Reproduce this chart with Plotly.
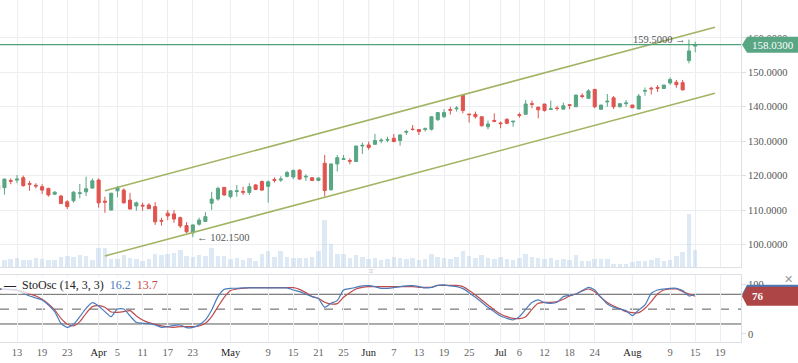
import plotly.graph_objects as go

# ---------------- data (bar index 0 = 13 Mar) ----------------
bar_idx = list(range(-3, 109))
opens = [117.3, 116.5, 118.6, 118.7, 119.4, 117.7, 117.2, 116.8, 116.3, 114.6, 114.1, 112.4, 112.7, 114.8, 115.3, 116.4,
         118.7, 112.6, 110.0, 115.6, 115.8, 112.9, 111.2, 111.4, 111.5, 111.0, 107.0, 109.1, 108.9, 107.8, 105.5, 103.4,
         105.9, 106.7, 112.0, 113.2, 116.6, 113.9, 115.4, 115.4, 115.1, 117.3, 118.3, 116.9, 118.9, 118.7, 119.8, 119.6,
         121.6, 119.6, 119.4, 118.6, 123.6, 115.9, 123.4, 124.7, 124.4, 124.1, 128.6, 128.9, 129.1, 130.1, 130.3, 130.85,
         130.2, 132.6, 133.5, 133.4, 133.4, 133.45, 136.2, 137.1, 139.2, 139.4, 143.4, 137.9, 137.8, 137.1, 134.2, 136.0,
         135.3, 136.35, 135.6, 137.7, 137.8, 140.9, 139.9, 140.8, 139.2, 139.6, 139.3, 140.6, 140.0, 143.2, 142.45, 145.05,
         139.25, 141.4, 142.6, 140.0, 140.9, 140.5, 139.35, 144.5, 145.4, 145.6, 145.3, 146.9, 147.1, 147.0, 153.4, 157.6]
highs = [117.6, 119.1, 119.2, 120.2, 120.0, 118.5, 117.8, 117.5, 116.5, 115.5, 114.3, 112.9, 115.5, 117.6, 119.7, 119.2,
         119.2, 113.9, 115.0, 117.0, 116.3, 115.0, 112.5, 112.2, 112.0, 112.3, 107.8, 110.0, 110.0, 108.1, 106.5, 105.8,
         107.8, 109.4, 115.3, 116.8, 116.6, 115.6, 117.3, 116.8, 117.8, 117.6, 118.6, 118.6, 119.5, 119.8, 121.4, 121.8,
         121.9, 120.4, 119.5, 119.5, 126.0, 123.5, 126.0, 126.0, 125.0, 128.7, 129.6, 129.9, 132.1, 130.85, 131.3, 132.1,
         132.1, 133.3, 134.7, 133.4, 134.0, 137.3, 138.4, 139.3, 140.0, 140.2, 143.5, 137.9, 138.6, 137.2, 136.0, 138.1,
         135.7, 136.65, 135.8, 138.3, 142.0, 141.8, 139.9, 140.8, 141.8, 140.2, 141.2, 140.8, 143.4, 143.9, 145.1, 145.1,
         140.5, 143.7, 143.1, 140.9, 141.96, 140.5, 143.7, 145.6, 145.8, 146.3, 146.3, 148.5, 147.8, 147.8, 159.5, 158.9]
lows = [115.8, 114.5, 117.5, 117.8, 116.8, 115.6, 116.3, 114.7, 113.9, 114.4, 111.8, 110.3, 112.2, 113.4, 114.1, 116.2,
        110.7, 109.2, 109.9, 113.7, 111.9, 110.2, 109.8, 109.8, 110.3, 105.7, 105.5, 107.1, 106.3, 104.8, 103.3, 102.15,
        105.5, 106.6, 110.0, 112.7, 114.1, 113.4, 113.9, 114.4, 114.4, 115.8, 115.6, 112.2, 118.0, 118.2, 119.5, 119.0,
        118.8, 118.5, 118.4, 118.4, 113.9, 115.7, 121.2, 124.6, 123.3, 124.0, 126.3, 127.5, 129.1, 129.4, 129.7, 129.7,
        128.7, 131.8, 133.1, 131.8, 132.8, 133.1, 136.0, 136.8, 137.7, 138.6, 138.1, 135.4, 136.6, 134.2, 133.45, 135.5,
        133.75, 134.9, 134.2, 136.8, 137.8, 139.55, 136.65, 138.6, 139.1, 138.9, 139.3, 139.3, 140.0, 142.45, 142.45, 139.55,
        139.25, 140.0, 139.35, 139.8, 140.0, 139.7, 139.35, 143.2, 143.6, 144.3, 145.2, 146.4, 145.5, 144.7, 152.6, 155.8]
closes = [116.0, 119.0, 118.4, 119.0, 117.1, 117.5, 117.0, 115.8, 114.4, 115.2, 111.9, 111.0, 115.2, 115.0, 116.2, 118.5,
          112.1, 112.3, 114.9, 116.6, 112.1, 110.3, 112.1, 111.2, 110.4, 106.6, 106.8, 108.3, 107.4, 105.4, 103.7, 105.7,
          107.1, 108.1, 113.2, 116.3, 114.4, 115.6, 115.6, 115.2, 116.8, 116.0, 115.8, 118.2, 118.6, 119.0, 120.9, 121.5,
          119.0, 119.8, 118.6, 119.3, 115.7, 123.4, 125.2, 124.9, 124.2, 128.6, 128.8, 128.2, 130.2, 130.3, 130.5, 129.9,
          131.8, 132.8, 133.4, 132.8, 133.6, 137.1, 138.3, 138.3, 139.0, 139.6, 138.9, 137.7, 137.1, 134.5, 135.0, 135.8,
          135.1, 135.2, 135.8, 137.5, 140.8, 140.7, 139.1, 138.9, 139.4, 139.5, 140.3, 140.4, 143.4, 143.0, 144.6, 140.0,
          140.5, 141.6, 140.0, 140.9, 141.1, 139.7, 143.1, 144.7, 145.2, 145.4, 146.3, 147.9, 146.4, 144.9, 156.2, 158.03]
volume = [7.0, 7.3, 8.3, 9.3, 7.3, 7.3, 9.3, 8.0, 6.7, 7.3, 10.3, 11.3, 10.3, 12.3, 11.3, 7.3,
          18.7, 18.7, 8.3, 8.3, 12.3, 9.3, 8.0, 6.3, 7.8, 13.0, 12.0, 13.3, 14.0, 17.5, 11.0, 10.5,
          12.0, 11.0, 19.2, 10.7, 10.7, 7.8, 9.5, 7.5, 9.0, 6.3, 13.0, 16.3, 10.0, 16.3, 10.0, 9.3,
          9.3, 9.3, 10.0, 16.3, 47.3, 23.3, 13.3, 13.3, 9.0, 12.0, 10.0, 8.0, 9.0, 7.0, 8.0, 10.0,
          9.0, 8.0, 9.0, 7.0, 8.0, 13.0, 10.0, 9.0, 8.0, 10.0, 16.0, 11.0, 9.0, 12.0, 9.0, 8.0,
          10.0, 8.0, 7.0, 9.0, 13.0, 10.0, 9.0, 8.0, 9.0, 7.0, 8.3, 7.3, 12.3, 5.7, 6.3, 8.3,
          8.3, 8.3, 3.3, 3.3, 3.3, 5.0, 5.7, 5.7, 7.3, 9.3, 5.7, 7.3, 11.3, 15.3, 53.3, 17.3]
sto_k = [90.7, 90.7, 90.0, 88.7, 82.0, 76.6, 72.5, 68.5, 58.4, 44.9, 21.4, 13.3, 19.3, 34.8, 51.7, 63.2,
         56.4, 44.9, 34.8, 50.3, 50.3, 36.2, 23.4, 21.4, 20.7, 18.0, 13.3, 14.6, 17.3, 18.0, 12.6, 13.3,
         18.0, 28.1, 48.3, 75.2, 90.0, 92.1, 92.1, 92.8, 92.8, 92.8, 92.8, 92.8, 92.8, 92.8, 92.8, 88.7,
         85.3, 80.0, 75.2, 71.2, 53.7, 61.8, 67.2, 88.7, 91.4, 94.1, 96.8, 97.4, 95.4, 92.1, 92.1, 93.4,
         95.4, 96.8, 97.4, 95.4, 92.8, 94.1, 98.1, 98.8, 96.8, 95.4, 91.4, 83.3, 73.9, 63.8, 53.7, 44.9,
         36.2, 31.5, 28.1, 34.8, 49.6, 63.2, 68.5, 63.2, 61.8, 63.8, 75.2, 77.9, 80.6, 87.4, 94.1, 88.7,
         73.9, 60.4, 53.7, 50.3, 47.0, 36.8, 48.3, 58.4, 82.0, 88.7, 90.7, 92.1, 92.1, 87.4, 76.6, 80.0]
sto_d = [90.0, 90.0, 89.0, 88.0, 85.3, 80.6, 76.6, 69.9, 60.4, 48.3, 31.5, 20.0, 16.0, 24.7, 41.6, 55.0,
         57.0, 53.7, 44.3, 43.6, 44.9, 47.0, 36.2, 28.1, 22.7, 19.3, 16.0, 14.0, 13.3, 14.6, 14.6, 14.6,
         16.0, 21.4, 34.8, 55.0, 73.9, 87.4, 90.7, 92.1, 93.4, 93.4, 93.4, 93.4, 93.4, 93.4, 93.4, 93.4,
         90.0, 83.3, 75.2, 71.9, 63.8, 60.4, 61.1, 73.9, 83.3, 90.7, 94.1, 95.4, 95.4, 95.4, 95.4, 95.4,
         95.4, 95.4, 95.4, 94.1, 94.1, 94.1, 98.0, 98.0, 98.0, 98.0, 95.4, 87.4, 78.6, 68.5, 58.4, 48.3,
         40.2, 34.8, 31.5, 30.8, 34.8, 49.6, 61.8, 63.8, 63.8, 65.2, 69.9, 76.6, 80.6, 86.7, 90.7, 85.3,
         73.9, 63.2, 56.4, 51.0, 44.9, 42.9, 42.9, 51.7, 65.2, 80.6, 88.7, 90.7, 90.7, 85.3, 80.6, 76.0]

tick_bars = [0, 4, 8, 13, 16, 20, 24, 28, 34, 40, 44, 48, 52, 56, 60, 64, 68, 72, 77, 80, 84, 88, 92, 98, 104, 108, 112]
tick_labels = ["13", "19", "23", "Apr", "5", "11", "17", "23", "May", "9", "15", "21", "25", "Jun", "7", "13", "19",
               "25", "Jul", "6", "12", "18", "24", "Aug", "9", "15", "19"]
month_labels = ["Apr", "May", "Jun", "Jul", "Aug"]

price_ticks = [100, 110, 120, 130, 140, 150, 160]
sto_levels = [80, 50, 20]

# drawn channel (trend lines)
upper_channel_x = [14.0, 111.15]
upper_channel_y = [115.6, 163.1]
lower_channel_x = [14.0, 111.15]
lower_channel_y = [96.7, 143.9]

# ---------------- styling ----------------
GREEN = "#58a683"
RED = "#e0544f"
BLUE_K = "#4b7bbd"
RED_D = "#bf4b4b"
GRID = "#eceef1"
MONTH_GRID = "#d6d8dc"
BORDER = "#dcdfe3"
FONT = "Liberation Serif"

X_RANGE = [-2.707, 115.29]
P_RANGE = [93.48, 170.99]
S_RANGE = [-16.4, 119.0]
MAIN_DOM = [0.2193, 1.0]
STO_DOM = [0.0, 0.196]

fig = go.Figure()

# volume (base axis of the main panel)
fig.add_trace(go.Bar(x=bar_idx, y=volume, xaxis="x", yaxis="y",
                     marker=dict(color="rgba(175,203,228,0.42)", line=dict(width=0)),
                     width=0.72, hoverinfo="skip", showlegend=False))

# candles on overlaying price axis
fig.add_trace(go.Candlestick(x=bar_idx, open=opens, high=highs, low=lows, close=closes,
                             xaxis="x", yaxis="y3", whiskerwidth=0,
                             increasing=dict(line=dict(color=GREEN, width=1), fillcolor=GREEN),
                             decreasing=dict(line=dict(color=RED, width=1), fillcolor=RED),
                             showlegend=False))

for cx, cy in [(upper_channel_x, upper_channel_y), (lower_channel_x, lower_channel_y)]:
    fig.add_trace(go.Scatter(x=cx, y=cy, xaxis="x", yaxis="y3", mode="lines",
                             line=dict(color="#a1b463", width=1.6), hoverinfo="skip", showlegend=False))

# stochastic
fig.add_trace(go.Scatter(x=bar_idx, y=sto_d, xaxis="x2", yaxis="y2", mode="lines",
                         line=dict(color=RED_D, width=1.2, shape="spline", smoothing=0.6), showlegend=False))
fig.add_trace(go.Scatter(x=bar_idx, y=sto_k, xaxis="x2", yaxis="y2", mode="lines",
                         line=dict(color=BLUE_K, width=1.2, shape="spline", smoothing=0.6), showlegend=False))

shapes = []
# month separators
for b, lab in zip(tick_bars, tick_labels):
    if lab in month_labels:
        for yr in ["y domain", "y2 domain"]:
            shapes.append(dict(type="line", xref="x", yref=yr, x0=b, x1=b, y0=0, y1=1,
                               line=dict(color=MONTH_GRID, width=1), layer="below"))
# stochastic levels
for lv in sto_levels:
    shapes.append(dict(type="line", xref="paper", yref="y2", x0=0, x1=1, y0=lv, y1=lv,
                       line=dict(color="#5a5a5a", width=1, dash="dash" if lv == 50 else "solid"), layer="below"))
# last price line
last_close = closes[-1]
shapes.append(dict(type="line", xref="paper", yref="y3", x0=0, x1=1, y0=last_close, y1=last_close,
                   line=dict(color="#4fa37c", width=1.3)))

# badges (right side)
px_w = 741.0
def badge(yref, yc, half, color):
    x0 = 1.0 + 1 / px_w
    xn = 1.0 + 6 / px_w
    x1 = 798 / px_w
    return dict(type="path", xref="paper", yref=yref,
                path=f"M {x0},{yc} L {xn},{yc + half} L {x1},{yc + half} L {x1},{yc - half} L {xn},{yc - half} Z",
                fillcolor=color, line=dict(width=0))

price_half = 8.0 / 3.445
shapes.append(badge("y3", last_close, price_half, "#58a683"))
sto_half = 9.5 / 0.495
shapes.append(badge("y2", sto_k[-1], sto_half, "#4b78b6"))
shapes.append(badge("y2", sto_d[-1], sto_half, "#ad4547"))

annotations = [
    dict(xref="paper", yref="y3", x=1.0 + 9 / px_w, y=last_close, xanchor="left", yanchor="middle",
         text=f"{last_close:.4f}", showarrow=False, font=dict(family=FONT, size=11, color="white")),
    dict(xref="paper", yref="y2", x=1.0 + 9 / px_w, y=sto_d[-1], xanchor="left", yanchor="middle",
         text=f"<b>{sto_d[-1]:.0f}</b>", showarrow=False, font=dict(family=FONT, size=11, color="white")),
]
hi_i = highs.index(max(highs))
annotations.append(dict(xref="x", yref="y3", x=bar_idx[hi_i] - 0.2, y=highs[hi_i], xanchor="right", yanchor="middle",
                        text=f"{highs[hi_i]:.4f} →", showarrow=False,
                        font=dict(family=FONT, size=10.5, color="#555")))
lo_i = lows.index(min(lows))
annotations.append(dict(xref="x", yref="y3", x=bar_idx[lo_i] + 0.3, y=lows[lo_i], xanchor="left", yanchor="middle",
                        text=f"← {lows[lo_i]:.4f}", showarrow=False,
                        font=dict(family=FONT, size=10.5, color="#555")))
# indicator legend
annotations.append(dict(xref="paper", yref="y2", x=0.002, y=98.8, xanchor="left", yanchor="middle",
                        text=(f"<b>—</b>  StoOsc (14, 3, 3)  <span style='color:{BLUE_K}'>16.2</span>  "
                              f"<span style='color:{RED_D}'>13.7</span>"),
                        showarrow=False, bgcolor="rgba(255,255,255,0.75)", borderpad=1,
                        font=dict(family=FONT, size=12, color="#222")))
annotations.append(dict(xref="paper", yref="paper", x=788 / px_w, y=(342 - 279) / 342, xanchor="center",
                        yanchor="middle", text="✕", showarrow=False, font=dict(size=11, color="#999")))
annotations.append(dict(xref="paper", yref="paper", x=371 / px_w, y=(342 - 271) / 342, xanchor="center",
                        yanchor="middle", text="≡", showarrow=False, font=dict(size=9, color="#c4c4c4")))

tick_text = [f"<span style='color:#222'>{t}</span>" if t in month_labels else t for t in tick_labels]

fig.update_layout(
    width=798, height=363,
    margin=dict(l=0, r=57, t=0, b=21),
    paper_bgcolor="white", plot_bgcolor="white",
    showlegend=False, bargap=0,
    font=dict(family=FONT, size=10, color="#555"),
    xaxis=dict(domain=[0, 1], anchor="y", range=X_RANGE, tickmode="array", tickvals=tick_bars,
               showticklabels=False, showgrid=True, gridcolor=GRID, zeroline=False,
               showline=True, linecolor=BORDER, ticks="", rangeslider=dict(visible=False)),
    yaxis=dict(domain=MAIN_DOM, anchor="x", range=[0, 267], visible=False, showgrid=False, zeroline=False),
    yaxis3=dict(overlaying="y", anchor="x", side="right", range=P_RANGE, tickmode="array",
                tickvals=price_ticks, ticktext=[f"{v:.4f}" for v in price_ticks],
                showgrid=True, gridcolor=GRID, zeroline=False, showline=True, linecolor=BORDER,
                ticks="outside", ticklen=4, tickcolor=BORDER, tickfont=dict(family=FONT, size=10.5, color="#555")),
    xaxis2=dict(domain=[0, 1], anchor="y2", range=X_RANGE, tickmode="array", tickvals=tick_bars,
                ticktext=tick_text, showgrid=True, gridcolor=GRID, zeroline=False, showline=True,
                linecolor=BORDER, mirror=True, ticks="", tickfont=dict(family=FONT, size=10.5, color="#666")),
    yaxis2=dict(domain=STO_DOM, anchor="x2", side="right", range=S_RANGE, tickmode="array",
                tickvals=[0, 100], showgrid=False, zeroline=False, showline=True, linecolor=BORDER,
                ticks="outside", ticklen=4, tickcolor=BORDER, tickfont=dict(family=FONT, size=10.5, color="#555")),
    shapes=shapes, annotations=annotations,
)

fig.write_html("out.html", config={"displayModeBar": False},
               post_script="document.body.style.margin='0px';document.body.style.overflow='hidden';")
